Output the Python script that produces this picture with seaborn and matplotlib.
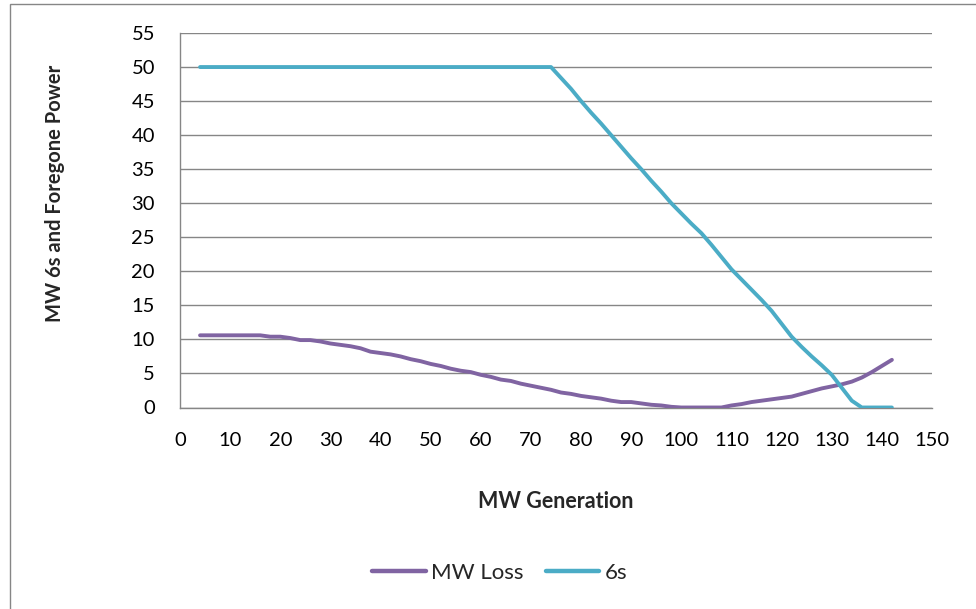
import numpy as np
import pandas as pd
import matplotlib
matplotlib.use("Agg")
import matplotlib.pyplot as plt
from matplotlib.patches import Rectangle
import seaborn as sns

# MW generation steps and the two series
generation = list(range(4, 143, 2))

mw_loss = [10.6, 10.6, 10.6, 10.6, 10.6, 10.6, 10.6, 10.4, 10.4, 10.2,
           9.9, 9.9, 9.7, 9.4, 9.2, 9.0, 8.7, 8.2, 8.0, 7.8,
           7.5, 7.1, 6.8, 6.4, 6.1, 5.7, 5.4, 5.2, 4.8, 4.5,
           4.1, 3.9, 3.5, 3.2, 2.9, 2.6, 2.2, 2.0, 1.7, 1.5,
           1.3, 1.0, 0.8, 0.8, 0.6, 0.4, 0.3, 0.1, 0.0, 0.0,
           0.0, 0.0, 0.0, 0.3, 0.5, 0.8, 1.0, 1.2, 1.4, 1.6,
           2.0, 2.4, 2.8, 3.1, 3.4, 3.8, 4.4, 5.2, 6.1, 7.0]

six_s = [50.0] * 36 + [48.4, 46.8, 45.0, 43.3, 41.7, 40.0, 38.3, 36.6, 35.0, 33.3,
                       31.7, 30.0, 28.5, 27.0, 25.6, 23.9, 22.1, 20.3, 18.8, 17.3,
                       15.8, 14.2, 12.3, 10.4, 8.9, 7.5, 6.2, 4.8, 2.9, 1.0,
                       0.0, 0.0, 0.0, 0.0]

series_names = ["MW Loss", "6s"]
series_colors = ["#8064A2", "#4BACC6"]

x_ticks = list(range(0, 151, 10))
y_ticks = list(range(0, 56, 5))

df = pd.DataFrame({
    "MW Generation": generation * 2,
    "value": mw_loss + six_s,
    "series": [series_names[0]] * len(generation) + [series_names[1]] * len(generation),
})

sns.set_style("white")
plt.rcParams["font.family"] = ["Lato", "DejaVu Sans"]

W, H = 976, 609
fig = plt.figure(figsize=(W / 100, H / 100), dpi=100)
ax = fig.add_axes([180 / W, 1 - 407.5 / H, 752 / W, 374.5 / H])

grid_c = "#868686"
sns.lineplot(data=df, x="MW Generation", y="value", hue="series",
             hue_order=series_names, palette=series_colors,
             linewidth=2.8, ax=ax, legend=False, zorder=3)
for ln in ax.get_lines():
    ln.set_solid_capstyle("round")
    ln.set_solid_joinstyle("round")

ax.set_xlim(0, 150)
ax.set_ylim(0, 55)
ax.set_xticks(x_ticks)
ax.set_yticks(y_ticks)
ax.yaxis.grid(True, color=grid_c, linewidth=1.0)
ax.set_axisbelow(True)
for side in ("top", "right"):
    ax.spines[side].set_visible(False)
for side in ("left", "bottom"):
    ax.spines[side].set_color(grid_c)
    ax.spines[side].set_linewidth(1.0)
ax.tick_params(axis="both", direction="out", length=6, width=1.0, color=grid_c,
               labelsize=14.5, labelcolor="black")
ax.tick_params(axis="y", pad=12)
ax.tick_params(axis="x", pad=12)
ax.set_xlabel("")
ax.set_ylabel("")

fig.text(556 / W, 1 - 502 / H, "MW Generation", ha="center", va="center",
         fontsize=15.5, fontweight="bold")
fig.text(55 / W, 1 - 193 / H, "MW 6s and Foregone Power", ha="center", va="center",
         rotation=90, fontsize=14.5, fontweight="bold")

handles = [plt.Line2D([], [], color=c, linewidth=3.2, solid_capstyle="round")
           for c in series_colors]
fig.legend(handles, series_names, loc="center", bbox_to_anchor=(500 / W, 1 - 573 / H),
           ncol=2, frameon=False, fontsize=16, handlelength=2.4,
           handletextpad=0.25, columnspacing=1.0)

fig.add_artist(Rectangle((10 / W, -0.1), 2, 1.1 - 4 / H, transform=fig.transFigure,
                         fill=False, edgecolor=grid_c, linewidth=1.0))

fig.savefig("out.png", dpi=100)
